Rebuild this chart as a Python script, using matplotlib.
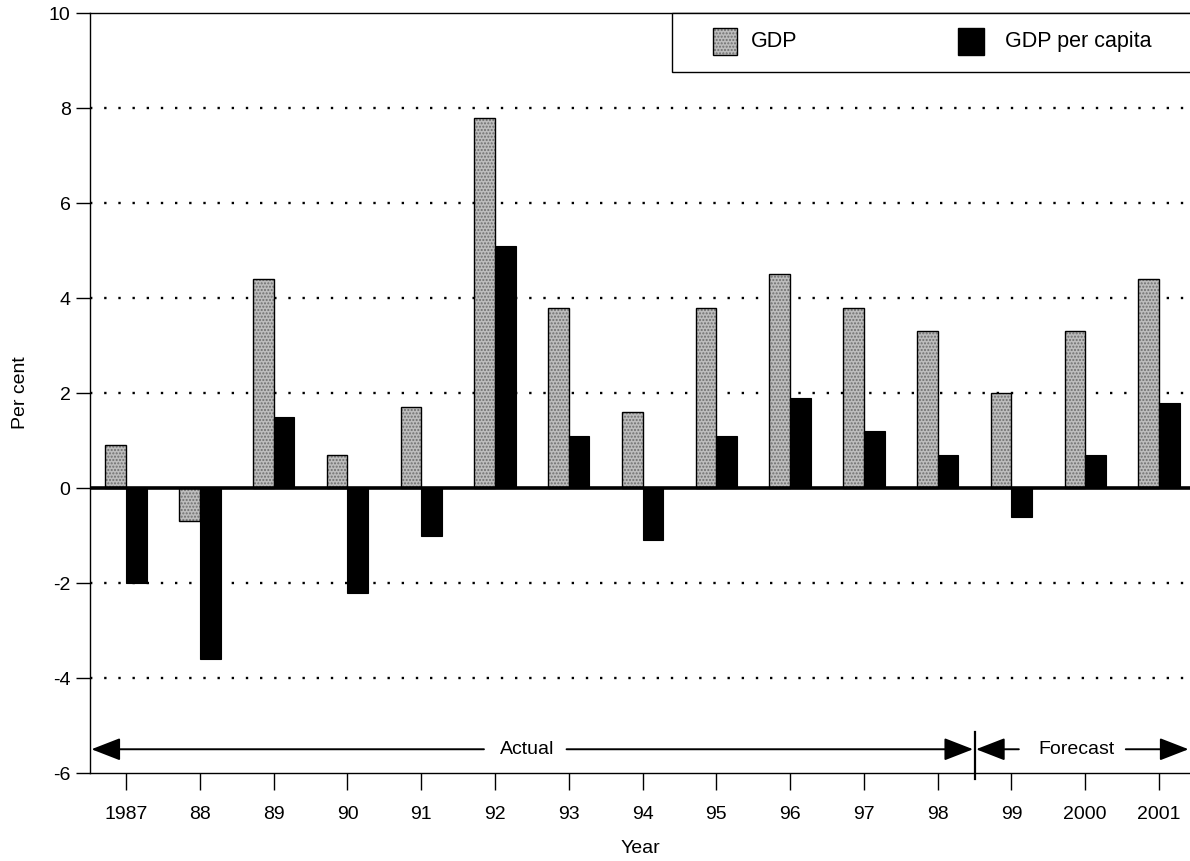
import matplotlib
matplotlib.use("Agg")
import matplotlib.pyplot as plt
from matplotlib.patches import Rectangle
import numpy as np

plt.rcParams['font.family'] = ['Liberation Sans Narrow', 'Liberation Sans', 'DejaVu Sans']

years = ["1987", "88", "89", "90", "91", "92", "93", "94", "95", "96", "97", "98", "99", "2000", "2001"]
gdp = [0.9, -0.7, 4.4, 0.7, 1.7, 7.8, 3.8, 1.6, 3.8, 4.5, 3.8, 3.3, 2.0, 3.3, 4.4]
gdp_per_capita = [-2.0, -3.6, 1.5, -2.2, -1.0, 5.1, 1.1, -1.1, 1.1, 1.9, 1.2, 0.7, -0.6, 0.7, 1.8]
y_ticks = [10, 8, 6, 4, 2, 0, -2, -4, -6]
grid_levels = [8, 6, 4, 2, -2, -4]
n_actual = 12  # 1987-98 are outturns, 99-2001 forecasts

fs = 14
fig = plt.figure(figsize=(11.9, 8.61), dpi=100)
ax = fig.add_axes([0.0756, 0.1022, 0.9244, 0.8827])

x = np.arange(len(years))
w = 0.28
gray = '#bdbdbd'
stipple = '#6e6e6e'

# stippled GDP bars: fill with fine dot hatch, then a black outline
ax.bar(x - w / 2, gdp, w, color=gray, edgecolor=stipple, hatch='.....', linewidth=0, zorder=3)
ax.bar(x - w / 2, gdp, w, facecolor='none', edgecolor='black', linewidth=1.0, zorder=4)
ax.bar(x + w / 2, gdp_per_capita, w, color='black', edgecolor='black', linewidth=0.8, zorder=4)

for g in grid_levels:
    ax.axhline(g, color='black', linestyle=(0, (1, 5.0)), linewidth=1.7, zorder=1)
ax.axhline(0, color='black', linewidth=2.6, zorder=5)

ax.set_xlim(-0.49, 14.42)
ax.set_ylim(-6, 10)
ax.set_yticks(y_ticks)
ax.set_yticklabels([str(t) for t in y_ticks], fontsize=fs)
ax.set_xticks(x)
ax.set_xticklabels(years, fontsize=fs)
ax.tick_params(axis='y', direction='out', length=10, width=1, pad=4)
ax.tick_params(axis='x', direction='out', length=12, width=1, pad=12)

for side in ['left', 'bottom', 'top']:
    ax.spines[side].set_linewidth(1.0)
ax.spines['right'].set_visible(False)

ax.set_ylabel('Per cent', fontsize=fs, labelpad=14)
ax.set_xlabel('Year', fontsize=fs, labelpad=12)

# actual / forecast arrows
ya = -5.5
sep = n_actual - 0.5
arrow = dict(arrowstyle='-|>,head_length=1.8,head_width=0.7', color='black',
             lw=1.4, shrinkA=0, shrinkB=0, mutation_scale=10)
ax.annotate('', xy=(-0.47, ya), xytext=(4.85, ya), arrowprops=arrow, annotation_clip=False)
ax.annotate('', xy=(sep - 0.02, ya), xytext=(5.97, ya), arrowprops=arrow, annotation_clip=False)
ax.annotate('', xy=(sep + 0.02, ya), xytext=(12.1, ya), arrowprops=arrow, annotation_clip=False)
ax.annotate('', xy=(14.40, ya), xytext=(13.55, ya), arrowprops=arrow, annotation_clip=False)
ax.text(5.43, ya, 'Actual', ha='center', va='center', fontsize=fs)
ax.text(12.88, ya, 'Forecast', ha='center', va='center', fontsize=fs)
ax.plot([sep, sep], [-5.13, -6.12], color='black', linewidth=1.6, clip_on=False, zorder=6)

# legend box
T = ax.transAxes
ax.add_patch(Rectangle((0.529, 0.922), 0.48, 0.078, transform=T, facecolor='white',
                       edgecolor='black', linewidth=1.0, clip_on=False, zorder=6))
ax.add_patch(Rectangle((0.566, 0.945), 0.022, 0.035, transform=T, facecolor=gray,
                       edgecolor=stipple, hatch='.....', linewidth=0, clip_on=False, zorder=7))
ax.add_patch(Rectangle((0.566, 0.945), 0.022, 0.035, transform=T, facecolor='none',
                       edgecolor='black', linewidth=1.0, clip_on=False, zorder=8))
ax.add_patch(Rectangle((0.789, 0.945), 0.024, 0.035, transform=T, facecolor='black',
                       edgecolor='black', linewidth=1.0, clip_on=False, zorder=7))
ax.text(0.601, 0.962, 'GDP', transform=T, ha='left', va='center', fontsize=15.5, zorder=8)
ax.text(0.832, 0.962, 'GDP per capita', transform=T, ha='left', va='center', fontsize=15.5, zorder=8)

fig.savefig('out.png', dpi=100)
